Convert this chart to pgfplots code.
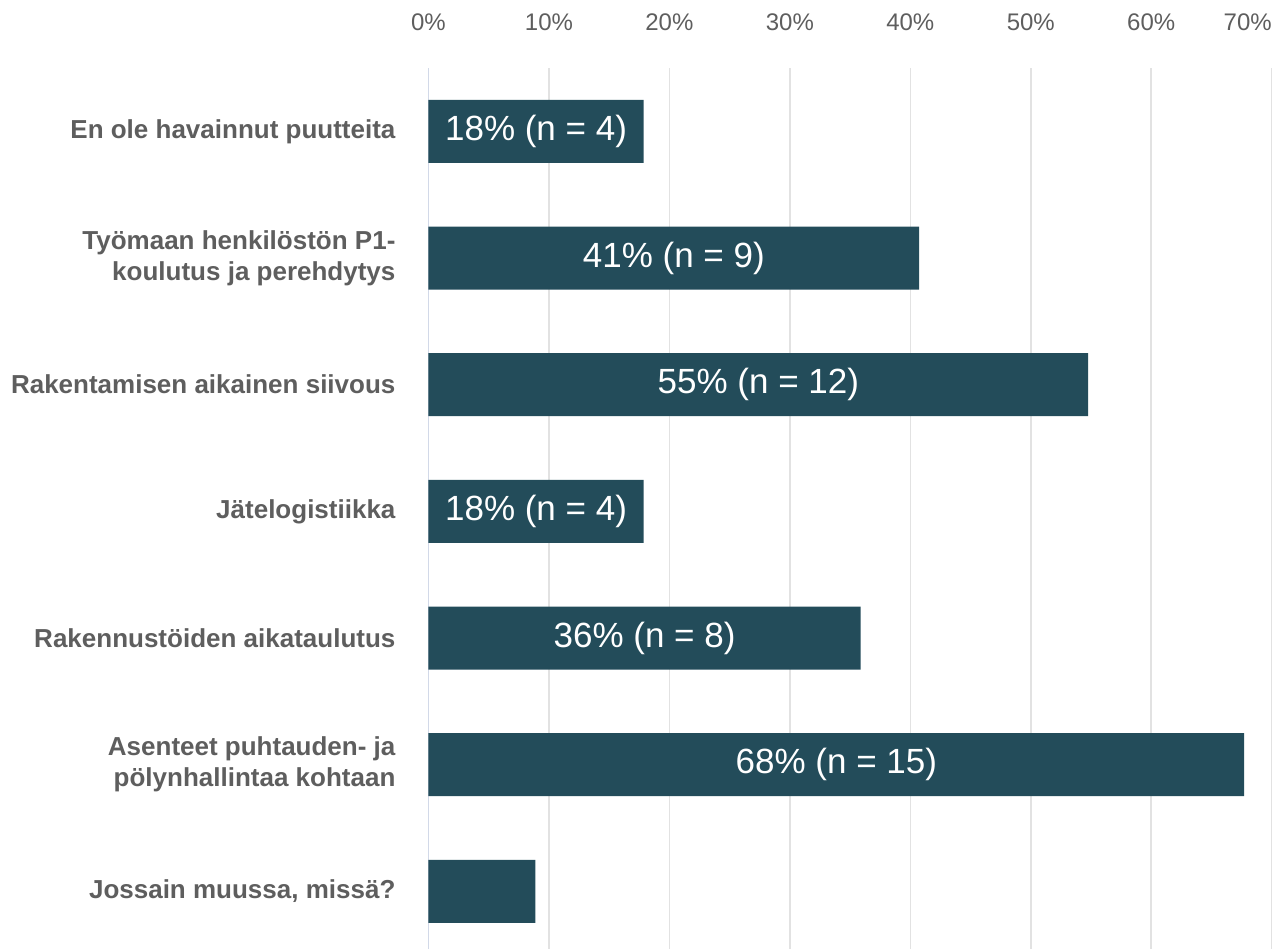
\documentclass[border=0pt]{standalone}
\usepackage{pgfplots}
\usepackage{pgfplotstable}
\pgfplotsset{compat=1.18}
\usepackage{fontspec}
\setmainfont{Liberation Sans}
\definecolor{barc}{HTML}{234C5A}
\definecolor{lbl}{HTML}{5E5E5E}
\definecolor{gridc}{HTML}{E2E2E2}
\definecolor{zeroc}{HTML}{D2D9E8}

\pgfplotstableread[col sep=comma]{
y,v
6,17.86
5,40.74
4,54.77
3,17.86
2,35.88
1,67.72
0,8.87
}\data

\pgfplotstableread[col sep=comma]{
y,v,lab
6,17.86,18\% (n = 4)
5,40.74,41\% (n = 9)
4,54.77,55\% (n = 12)
3,17.86,18\% (n = 4)
2,35.88,36\% (n = 8)
1,67.72,68\% (n = 15)
}\labels

\begin{document}
\begin{tikzpicture}
\begin{axis}[
  at={(0,0)}, anchor=south west,
  scale only axis, width=421.6pt, height=440.5pt,
  xmin=0, xmax=70, ymin=-0.455, ymax=6.5,
  axis line style={draw=none},
  major tick length=0pt,
  xtick={10,20,...,70},
  xticklabels={10\%,20\%,30\%,40\%,50\%,60\%,\llap{70\%}},
  extra x ticks={0},
  extra x tick labels={0\%},
  extra x tick style={grid style={zeroc, line width=0.8pt}},
  xticklabel pos=upper,
  xticklabel style={font=\fontsize{12}{14}\selectfont, text=lbl, yshift=15pt},
  xmajorgrids, grid style={gridc, line width=0.8pt},
  ytick={0,...,6},
  yticklabels={{Jossain muussa, missä?},{Asenteet puhtauden- ja\\pölynhallintaa kohtaan},{Rakennustöiden aikataulutus},{Jätelogistiikka},{Rakentamisen aikainen siivous},{Työmaan henkilöstön P1-\\koulutus ja perehdytys},{En ole havainnut puutteita}},
  yticklabel style={font=\bfseries\fontsize{13}{15.5}\selectfont, text=lbl, align=right, anchor=east, xshift=-13pt},
  clip=false,
]
\addplot[xbar, bar width=31.5pt, fill=barc, draw=none] table[x=v, y=y]{\data};
\addplot[draw=none, mark=none, nodes near coords, point meta=explicit symbolic,
  every node near coord/.append style={anchor=center, text=white, font=\fontsize{17.5}{19}\selectfont}]
  table[x expr=\thisrow{v}/2, y=y, meta=lab]{\labels};
\end{axis}
\pgfresetboundingbox
\useasboundingbox (-214.25pt,0pt) rectangle (422.75pt,474.5pt);
\end{tikzpicture}
\end{document}
